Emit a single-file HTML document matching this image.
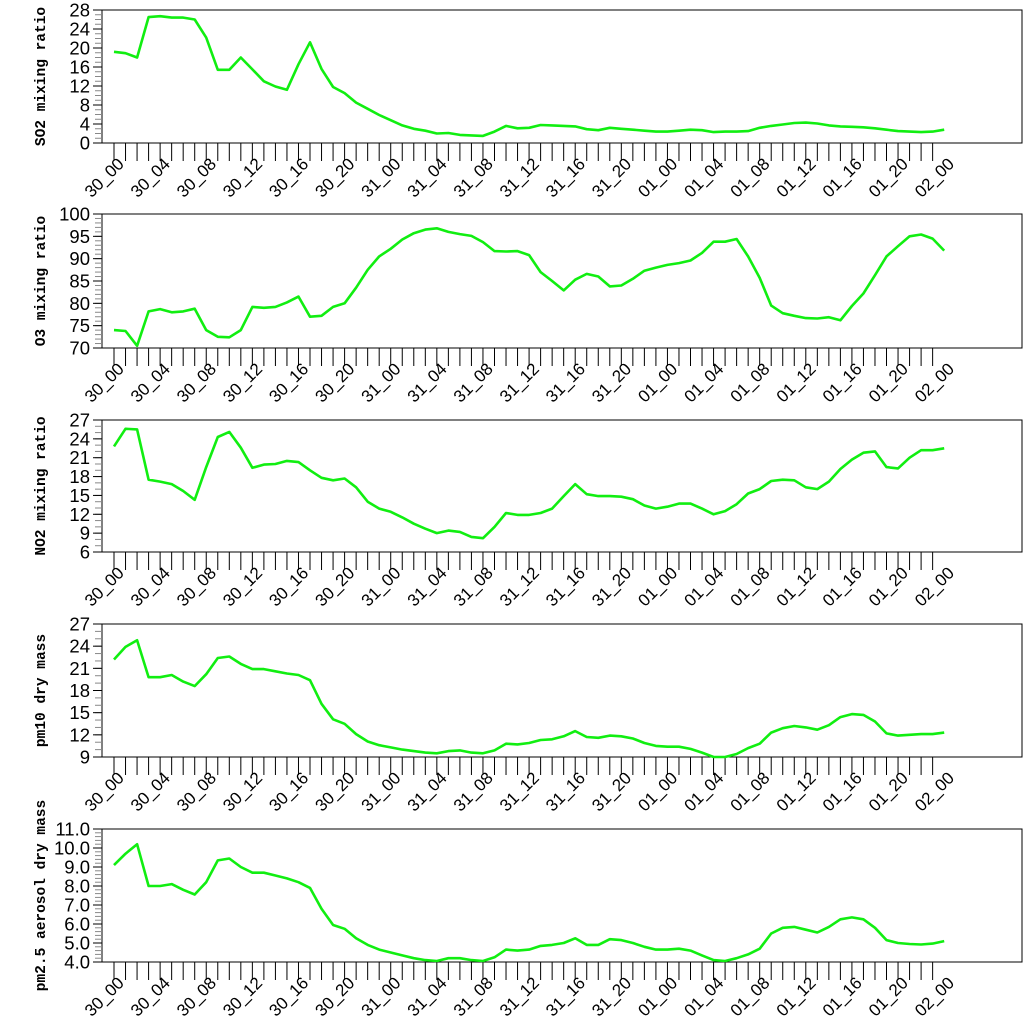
<!DOCTYPE html>
<html><head><meta charset="utf-8"><style>
html,body{margin:0;padding:0;background:#fff;}
svg{display:block;}
</style></head><body>
<svg id="chart" width="1024" height="1024" viewBox="0 0 1024 1024" xmlns="http://www.w3.org/2000/svg"></svg>
<script>
const xLabels = ["30_00","30_04","30_08","30_12","30_16","30_20","31_00","31_04","31_08","31_12","31_16","31_20","01_00","01_04","01_08","01_12","01_16","01_20","02_00"];
const so2 = [19.2,18.9,18.0,26.5,26.7,26.4,26.4,26.0,22.2,15.4,15.4,18.0,15.5,13.0,11.9,11.2,16.6,21.2,15.6,11.8,10.5,8.5,7.2,5.9,4.8,3.7,3.0,2.6,2.0,2.1,1.7,1.6,1.5,2.4,3.6,3.1,3.2,3.8,3.7,3.6,3.5,2.9,2.7,3.2,3.0,2.8,2.6,2.4,2.4,2.6,2.8,2.7,2.3,2.4,2.4,2.5,3.2,3.6,3.9,4.2,4.3,4.1,3.7,3.5,3.4,3.3,3.1,2.8,2.5,2.4,2.3,2.4,2.8];
const o3 = [74.0,73.8,70.5,78.2,78.7,78.0,78.2,78.8,74.0,72.5,72.4,74.0,79.2,79.0,79.2,80.2,81.5,77.0,77.2,79.2,80.0,83.5,87.5,90.5,92.2,94.3,95.7,96.5,96.8,96.0,95.5,95.1,93.7,91.7,91.6,91.7,90.8,87.0,85.0,82.9,85.3,86.6,86.0,83.8,84.0,85.5,87.3,88.0,88.6,89.0,89.6,91.3,93.8,93.8,94.4,90.5,85.7,79.5,77.8,77.2,76.7,76.6,76.9,76.2,79.4,82.2,86.3,90.5,92.8,95.0,95.4,94.5,91.8];
const no2 = [22.8,25.6,25.5,17.5,17.2,16.8,15.7,14.3,19.5,24.3,25.1,22.6,19.4,19.9,20.0,20.5,20.3,19.0,17.8,17.4,17.7,16.3,14.0,12.9,12.4,11.5,10.5,9.7,9.0,9.4,9.2,8.4,8.2,10.0,12.2,11.9,11.9,12.2,12.9,14.9,16.8,15.2,14.9,14.9,14.8,14.4,13.4,12.9,13.2,13.7,13.7,12.9,12.0,12.5,13.6,15.3,16.0,17.3,17.5,17.4,16.3,16.0,17.2,19.2,20.7,21.8,22.0,19.5,19.3,21.0,22.2,22.2,22.5];
const pm10 = [22.2,23.9,24.8,19.8,19.8,20.1,19.2,18.6,20.2,22.4,22.6,21.6,20.9,20.9,20.6,20.3,20.1,19.4,16.2,14.1,13.5,12.1,11.1,10.6,10.3,10.0,9.8,9.6,9.5,9.8,9.9,9.6,9.5,9.9,10.8,10.7,10.9,11.3,11.4,11.8,12.5,11.7,11.6,11.9,11.8,11.5,10.9,10.5,10.4,10.4,10.1,9.6,9.0,9.0,9.4,10.2,10.8,12.3,12.9,13.2,13.0,12.7,13.3,14.4,14.8,14.7,13.8,12.2,11.9,12.0,12.1,12.1,12.3];
const pm25 = [9.1,9.7,10.2,8.0,8.0,8.1,7.8,7.55,8.2,9.35,9.45,9.0,8.7,8.7,8.55,8.4,8.2,7.9,6.8,5.95,5.75,5.25,4.9,4.65,4.5,4.35,4.2,4.1,4.05,4.2,4.2,4.1,4.05,4.25,4.65,4.6,4.65,4.85,4.9,5.0,5.25,4.9,4.9,5.2,5.15,5.0,4.8,4.65,4.65,4.7,4.6,4.35,4.1,4.05,4.2,4.4,4.7,5.5,5.8,5.85,5.7,5.55,5.85,6.25,6.35,6.25,5.8,5.15,5.0,4.95,4.92,4.97,5.1];
const so2Ticks = [0,4,8,12,16,20,24,28];
const o3Ticks = [70,75,80,85,90,95,100];
const no2Ticks = [6,9,12,15,18,21,24,27];
const pm10Ticks = [9,12,15,18,21,24,27];
const pm25Ticks = ["4.0","5.0","6.0","7.0","8.0","9.0","10.0","11.0"];

const NS = "http://www.w3.org/2000/svg";
const svg = document.getElementById('chart');
function mk(tag, attrs, parent){const e=document.createElementNS(NS,tag);for(const k in attrs)e.setAttribute(k,attrs[k]);(parent||svg).appendChild(e);return e;}

const L = 102, R = 1022, X0 = 114, DX = 11.53;
function xPos(h){return X0 + h*DX;}

const panels = [
  {key:'so2', title:'SO2 mixing ratio', data:so2, ticks:so2Ticks, top:10, bot:143, minor:1},
  {key:'o3', title:'O3 mixing ratio', data:o3, ticks:o3Ticks, top:214, bot:348, minor:1},
  {key:'no2', title:'NO2 mixing ratio', data:no2, ticks:no2Ticks, top:420, bot:552, minor:1},
  {key:'pm10', title:'pm10 dry mass', data:pm10, ticks:pm10Ticks, top:624, bot:757, minor:1},
  {key:'pm25', title:'pm2.5 aerosol dry mass', data:pm25, ticks:pm25Ticks, top:829, bot:962, minor:0.2}
];

panels.forEach(p=>{
  const g = mk('g',{});
  
  
  const tv = p.ticks.map(Number);
  const ymin = tv[0], ymax = tv[tv.length-1];
  const yPos = v => p.bot - (v-ymin)/(ymax-ymin)*(p.bot-p.top);
  const fr = mk('rect',{x:L,y:p.top,width:R-L,height:p.bot-p.top,fill:'none',stroke:'#000','stroke-width':1},g);
  
  
  const nMinor = Math.round((ymax-ymin)/p.minor);
  for(let i=0;i<=nMinor;i++){
    const y = yPos(ymin+i*p.minor);
    mk('line',{x1:L-7,x2:L,y1:y,y2:y,stroke:'#888','stroke-width':1},g);
  }
  p.ticks.forEach(t=>{
    const y = yPos(Number(t));
    mk('line',{x1:L-9,x2:L,y1:y,y2:y,stroke:'#000','stroke-width':1},g);
    const tx = mk('text',{x:90,y:y+6.5,'text-anchor':'end','font-family':'Liberation Sans, sans-serif','font-size':18.5,fill:'#000'},g);
    tx.textContent = String(t);
    
    
  });
  const cy = (p.top+p.bot)/2;
  const tt = mk('text',{x:0,y:0,transform:`translate(45,${cy}) rotate(-90)`,'text-anchor':'middle','font-family':'Liberation Mono, monospace','font-weight':'bold','font-size':14.5,fill:'#000'},g);
  tt.textContent = p.title;
  
  
  for(let h=0;h<72;h++){
    const x = xPos(h);
    mk('line',{x1:x,x2:x,y1:p.bot,y2:p.bot+18,stroke:'#000','stroke-width':1},g);
  }
  xLabels.forEach((lab,i)=>{
    const x = xPos(i*4);
    const t = mk('text',{x:0,y:0,transform:`translate(${x+11},${p.bot+22}) rotate(-45)`,'text-anchor':'end','font-family':'Liberation Sans, sans-serif','font-size':17,fill:'#000'},g);
    t.textContent = lab;
    
    
  });
  const pts = p.data.map((v,h)=>xPos(h).toFixed(1)+','+yPos(v).toFixed(1)).join(' ');
  const pl = mk('polyline',{points:pts,fill:'none',stroke:'#11ee11','stroke-width':2.6,'stroke-linejoin':'round'},g);
  
  
});
</script>
</body></html>
